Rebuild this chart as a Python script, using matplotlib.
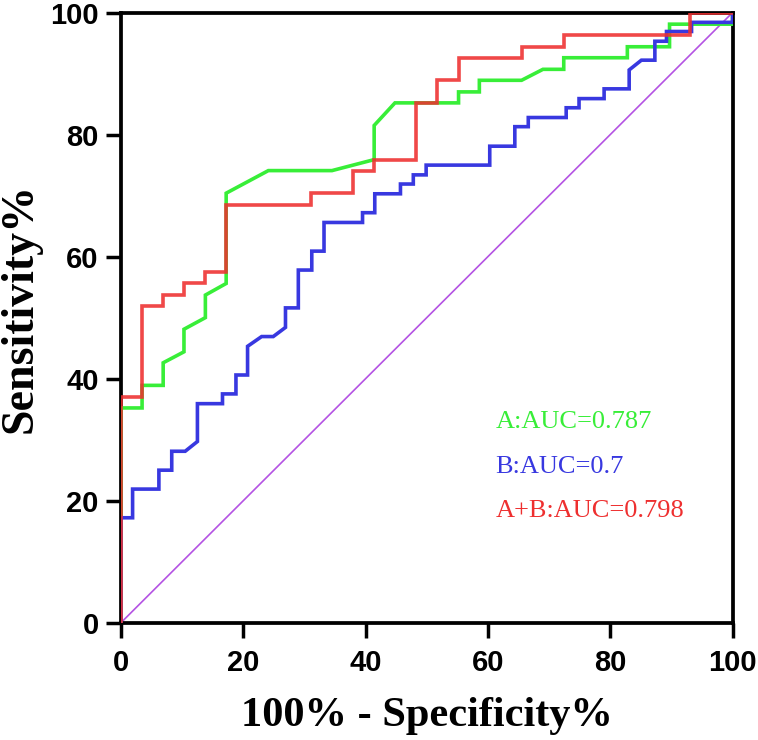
import matplotlib
matplotlib.use("Agg")
import matplotlib.pyplot as plt

# ROC curve points (100% - specificity %, sensitivity %)
a_fpr = [0, 0, 3.45, 3.45, 6.9, 6.9, 10.3, 10.3, 13.8, 13.8, 17.2, 17.2, 24.1, 34.5, 41.4, 41.4,
         44.8, 55.2, 55.2, 58.6, 58.6, 65.5, 69.0, 72.4, 72.4, 82.8, 82.8, 89.7, 89.7, 100, 100]
a_tpr = [0, 35.2, 35.2, 38.9, 38.9, 42.6, 44.4, 48.1, 50.0, 53.7, 55.6, 70.4, 74.1, 74.1, 75.9, 81.5,
         85.2, 85.2, 87.0, 87.0, 88.9, 88.9, 90.7, 90.7, 92.6, 92.6, 94.4, 94.4, 98.1, 98.1, 100]

b_fpr = [0, 0, 1.9, 1.9, 6.2, 6.2, 8.3, 8.3, 10.5, 12.5, 12.5, 16.6, 16.6, 18.8, 18.8, 20.7, 20.7,
         23.0, 24.9, 26.9, 26.9, 29.0, 29.0, 31.2, 31.2, 33.2, 33.2, 39.5, 39.5, 41.5, 41.5, 45.7,
         45.7, 47.8, 47.8, 49.9, 49.9, 60.3, 60.3, 64.4, 64.4, 66.6, 66.6, 72.8, 72.8, 74.9, 74.9,
         79.0, 79.0, 83.1, 83.1, 85.1, 87.3, 87.3, 89.2, 89.2, 93.3, 93.3, 100, 100]
b_tpr = [0, 17.2, 17.2, 21.9, 21.9, 25.0, 25.0, 28.1, 28.1, 29.7, 35.9, 35.9, 37.5, 37.5, 40.6, 40.6,
         45.3, 46.9, 46.9, 48.4, 51.6, 51.6, 57.8, 57.8, 60.9, 60.9, 65.6, 65.6, 67.2, 67.2, 70.3,
         70.3, 71.9, 71.9, 73.4, 73.4, 75.0, 75.0, 78.1, 78.1, 81.3, 81.3, 82.8, 82.8, 84.4, 84.4,
         85.9, 85.9, 87.5, 87.5, 90.6, 92.2, 92.2, 95.3, 95.3, 96.9, 96.9, 98.4, 98.4, 100]

ab_fpr = [0, 0, 3.45, 3.45, 6.9, 6.9, 10.3, 10.3, 13.8, 13.8, 17.2, 17.2, 31.0, 31.0, 37.9, 37.9,
          41.4, 41.4, 48.3, 48.3, 51.7, 51.7, 55.2, 55.2, 65.5, 65.5, 72.4, 72.4, 93.1, 93.1, 100]
ab_tpr = [0, 37.0, 37.0, 51.9, 51.9, 53.7, 53.7, 55.6, 55.6, 57.4, 57.4, 68.5, 68.5, 70.4, 70.4, 74.1,
          74.1, 75.9, 75.9, 85.2, 85.2, 88.9, 88.9, 92.6, 92.6, 94.4, 94.4, 96.3, 96.3, 100, 100]

ref_line = [0, 100]
labels = ["A:AUC=0.787", "B:AUC=0.7", "A+B:AUC=0.798"]
ticks = [0, 20, 40, 60, 80, 100]

GREEN = "#38ee38"
BLUE = "#3838e0"
RED = "#ee2f2f"
PURPLE = "#b453e3"

fig = plt.figure(figsize=(7.58, 7.40), dpi=100)
ax = fig.add_axes([0.1596, 0.1585, 0.8068, 0.8245])

ax.plot(ref_line, ref_line, color=PURPLE, lw=1.2, zorder=2)
ax.plot(a_fpr, a_tpr, color=GREEN, lw=2.6, zorder=3, solid_joinstyle="miter")
ax.plot(b_fpr, b_tpr, color=BLUE, lw=2.6, zorder=4, solid_joinstyle="miter")
ax.plot(ab_fpr, ab_tpr, color=RED, lw=2.6, zorder=5, alpha=0.88, solid_joinstyle="miter")

ax.set_xlim(0, 100)
ax.set_ylim(0, 100)
ax.set_xticks(ticks)
ax.set_yticks(ticks)
ax.set_xticklabels([str(t) for t in ticks])
ax.set_yticklabels([str(t) for t in ticks])
for s in ax.spines.values():
    s.set_linewidth(2.7)
    s.set_color("black")
ax.tick_params(axis="both", length=11, width=2.5, direction="out", color="black")
ax.tick_params(axis="x", pad=8)
ax.tick_params(axis="y", pad=5)
for lab in ax.get_xticklabels() + ax.get_yticklabels():
    lab.set_fontfamily(["Liberation Sans Narrow", "Liberation Sans", "DejaVu Sans"])
    lab.set_fontweight("bold")
    lab.set_fontsize(21)
ax.set_xlabel("100% - Specificity%", fontfamily=["Liberation Serif", "DejaVu Serif"],
              fontweight="bold", fontsize=30.5, labelpad=14)
ax.set_ylabel("Sensitivity%", fontfamily=["Liberation Serif", "DejaVu Serif"],
              fontweight="bold", fontsize=33)
ax.yaxis.set_label_coords(-0.13, 0.515)

text_colors = [GREEN, BLUE, RED]
text_y = [31.9, 24.6, 17.3]
for lab, c, y in zip(labels, text_colors, text_y):
    ax.text(61.2, y, lab, color=c, fontsize=19, fontfamily=["Liberation Serif", "DejaVu Serif"],
            va="baseline", ha="left")

fig.savefig("out.png", dpi=100)
